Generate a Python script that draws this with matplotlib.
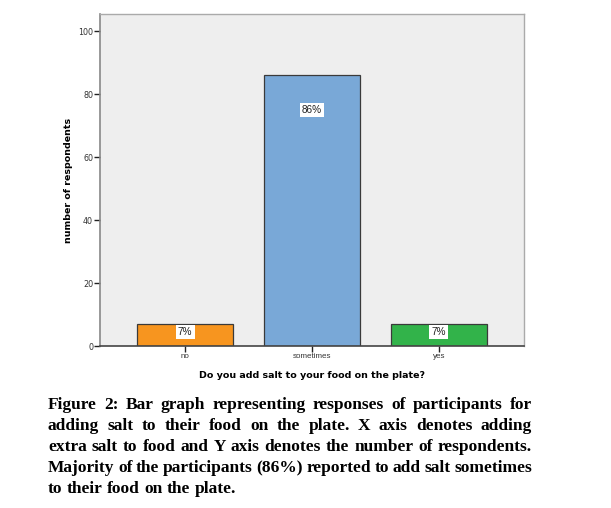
import matplotlib
matplotlib.use('Agg')
import matplotlib.pyplot as plt

categories = ['no', 'sometimes', 'yes']
counts = [7, 86, 7]
pct_labels = ['7%', '86%', '7%']
label_y = [4.4, 75, 4.4]
bar_colors = ['#F7951F', '#79A8D7', '#32B34A']

caption_lines = [
    'Figure 2: Bar graph representing responses of participants for',
    'adding salt to their food on the plate. X axis denotes adding',
    'extra salt to food and Y axis denotes the number of respondents.',
    'Majority of the participants (86%) reported to add salt sometimes',
    'to their food on the plate.',
]

W, H = 611, 508
fig = plt.figure(figsize=(W / 100, H / 100), dpi=100)
ax = fig.add_axes([100 / W, 1 - 346 / H, 424 / W, 332 / H])
ax.set_facecolor('#EEEEEE')

x = list(range(len(categories)))
ax.bar(x, counts, width=0.756, color=bar_colors, edgecolor='#3A3A3A',
       linewidth=0.9, zorder=2)
for xi, yi, lab in zip(x, label_y, pct_labels):
    ax.text(xi, yi, lab, ha='center', va='center', fontsize=7.2,
            family='Liberation Sans', color='#222222', zorder=3,
            bbox=dict(boxstyle='square,pad=0.22', fc='white', ec='none'))

ax.set_xlim(-0.67, 2.67)
ax.set_ylim(0, 105.4)
ax.set_xticks(x)
ax.set_xticklabels(categories, fontsize=5.8, family='Liberation Sans',
                   color='#333333')
ax.set_yticks([0, 20, 40, 60, 80, 100])
ax.tick_params(axis='both', direction='out', length=4, width=1,
               color='#222222', labelsize=5.8, labelcolor='#333333', pad=1)
for s in ['top', 'right']:
    ax.spines[s].set_color('#AAAAAA')
    ax.spines[s].set_linewidth(1)
ax.spines['left'].set_color('#888888')
ax.spines['left'].set_linewidth(1.2)
ax.spines['bottom'].set_color('#444444')
ax.spines['bottom'].set_linewidth(1.2)

ax.set_ylabel('number of respondents', fontsize=6.8, fontweight='bold',
              family='DejaVu Sans', labelpad=4)
ax.set_xlabel('Do you add salt to your food on the plate?', fontsize=6.8,
              fontweight='bold', family='DejaVu Sans', labelpad=8)

# caption, justified like the journal layout
left_px, right_px = 48, 532
top_px, line_h = 405, 21
renderer = fig.canvas.get_renderer()
for i, line in enumerate(caption_lines):
    y = 1 - (top_px + i * line_h) / H
    words = line.split(' ')
    texts = [fig.text(0, y, w, fontsize=12.5, fontweight='bold',
                      family='Liberation Serif', va='center', ha='left')
             for w in words]
    widths = [t.get_window_extent(renderer).width for t in texts]
    if i < len(caption_lines) - 1:
        gap = (right_px - left_px - sum(widths)) / (len(words) - 1)
    else:
        gap = renderer.points_to_pixels(12.5) * 0.25
    pos = left_px
    for t, w in zip(texts, widths):
        t.set_x(pos / W)
        pos += w + gap

fig.savefig('out.png', dpi=100)
